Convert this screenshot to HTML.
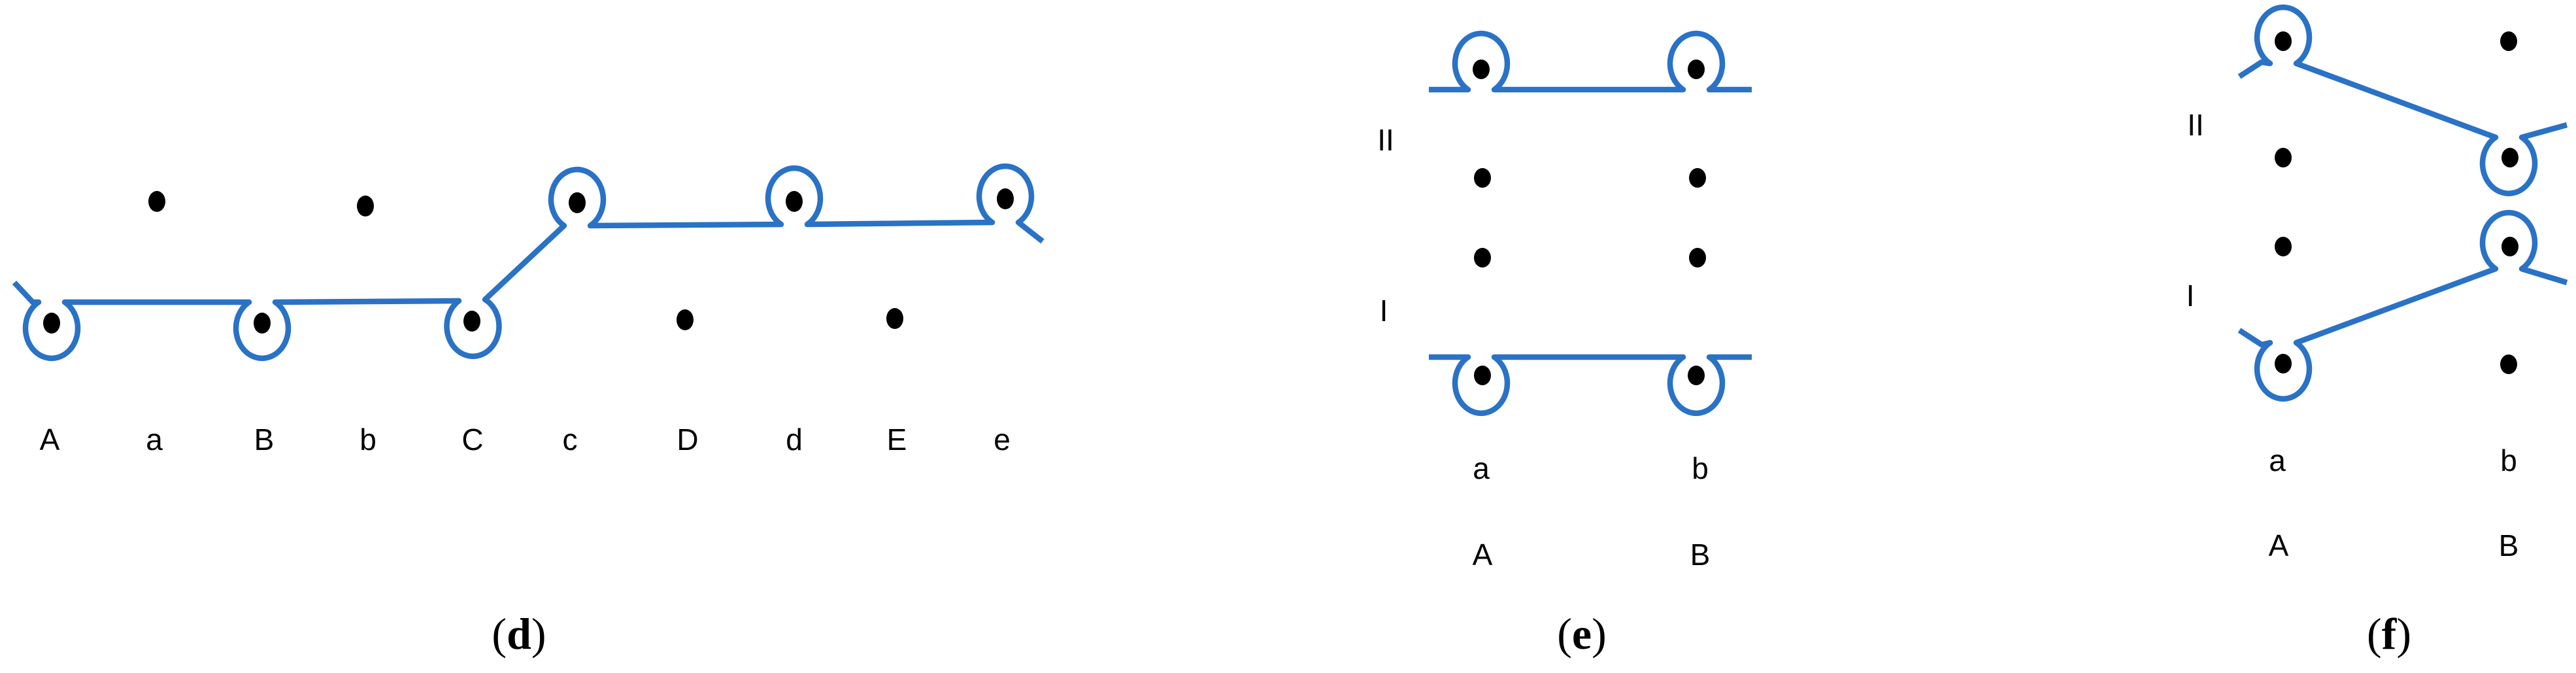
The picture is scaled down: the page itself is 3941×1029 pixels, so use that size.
<!DOCTYPE html>
<html><head><meta charset="utf-8"><style>
html,body{margin:0;padding:0;background:#fff;}
svg{display:block;}
.l{font-family:"Liberation Sans",sans-serif;font-size:46px;fill:#000;text-anchor:middle;}
.c{font-family:"Liberation Serif",serif;font-size:68px;fill:#000;text-anchor:middle;}
</style></head><body>
<svg width="3941" height="1029" viewBox="0 0 3941 1029" xmlns="http://www.w3.org/2000/svg">
<g fill="none" stroke="#2a72c6" stroke-width="8.5" stroke-linejoin="round">
<path d="M22,432 L50,462 L59,462 A40,46 0 1 0 99,462 L381,462 A40,46 0 1 0 421,462 L702,460 A40,46 0 1 0 742,458 L863,345 A40,46 0 1 1 903,345 L1195,343 A40,46 0 1 1 1235,343 L1518,340 A40,46 0 1 1 1558,340 L1595,369"/>
<path d="M2186,137 L2246,137 A40,46 0 1 1 2286,137 L2575,137 A40,46 0 1 1 2615,137 L2680,137"/>
<path d="M2186,546 L2246,546 A40,46 0 1 0 2286,546 L2575,546 A40,46 0 1 0 2615,546 L2680,546"/>
<path d="M3426,117 L3460,95 L3473,97 A40,46 0 1 1 3513,97 L3818,210 A40,46 0 1 0 3858,210 L3927,191"/>
<path d="M3426,505 L3460,527 L3473,524 A40,46 0 1 0 3513,524 L3818,411 A40,46 0 1 1 3858,411 L3927,432"/>
</g>
<g fill="#000">
<ellipse cx="79" cy="494" rx="13" ry="16"/>
<ellipse cx="401" cy="494" rx="13" ry="16"/>
<ellipse cx="722" cy="491" rx="13" ry="16"/>
<ellipse cx="883" cy="310" rx="13" ry="16"/>
<ellipse cx="1215" cy="308" rx="13" ry="16"/>
<ellipse cx="1538" cy="304" rx="13" ry="16"/>
<ellipse cx="240" cy="308" rx="13" ry="16"/>
<ellipse cx="559" cy="315" rx="13" ry="16"/>
<ellipse cx="1048" cy="489" rx="13" ry="16"/>
<ellipse cx="1369" cy="487" rx="13" ry="16"/>

<ellipse cx="2266" cy="106" rx="13" ry="15"/>
<ellipse cx="2595" cy="106" rx="13" ry="15"/>
<ellipse cx="2268" cy="272" rx="13" ry="15"/>
<ellipse cx="2597" cy="272" rx="13" ry="15"/>
<ellipse cx="2268" cy="394" rx="13" ry="15"/>
<ellipse cx="2597" cy="394" rx="13" ry="15"/>
<ellipse cx="2268" cy="574" rx="13" ry="15"/>
<ellipse cx="2595" cy="574" rx="13" ry="15"/>

<ellipse cx="3493" cy="63" rx="13" ry="15"/>
<ellipse cx="3838" cy="63" rx="13" ry="15"/>
<ellipse cx="3493" cy="241" rx="13" ry="15"/>
<ellipse cx="3840" cy="241" rx="13" ry="15"/>
<ellipse cx="3493" cy="377" rx="13" ry="15"/>
<ellipse cx="3840" cy="377" rx="13" ry="15"/>
<ellipse cx="3493" cy="556" rx="13" ry="15"/>
<ellipse cx="3838" cy="557" rx="13" ry="15"/>
</g>
<g class="l">
<text x="76" y="688" class="l">A</text>
<text x="236" y="688" class="l">a</text>
<text x="404" y="688" class="l">B</text>
<text x="563" y="688" class="l">b</text>
<text x="723" y="688" class="l">C</text>
<text x="872" y="688" class="l">c</text>
<text x="1052" y="688" class="l">D</text>
<text x="1215" y="688" class="l">d</text>
<text x="1372" y="688" class="l">E</text>
<text x="1533" y="688" class="l">e</text>

<text x="2120" y="230" class="l">II</text>
<text x="2117" y="491" class="l">I</text>
<text x="2266" y="732" class="l">a</text>
<text x="2601" y="732" class="l">b</text>
<text x="2268" y="864" class="l">A</text>
<text x="2601" y="864" class="l">B</text>

<text x="3359" y="207" class="l">II</text>
<text x="3351" y="468" class="l">I</text>
<text x="3484" y="720" class="l">a</text>
<text x="3838" y="720" class="l">b</text>
<text x="3486" y="850" class="l">A</text>
<text x="3838" y="850" class="l">B</text>
</g>
<text x="794" y="992" class="c">(<tspan font-weight="bold">d</tspan>)</text>
<text x="2420" y="992" class="c">(<tspan font-weight="bold">e</tspan>)</text>
<text x="3655" y="992" class="c">(<tspan font-weight="bold">f</tspan>)</text>
</svg>
</body></html>
